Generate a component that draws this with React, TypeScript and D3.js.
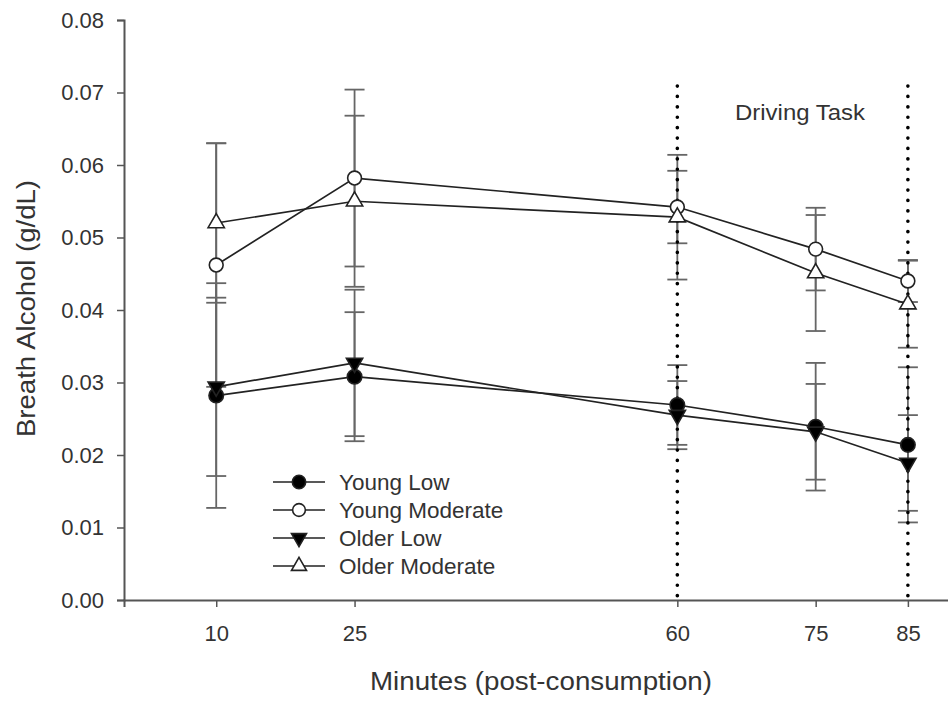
import React from "react";
import * as d3 from "d3";

const minutes = [10, 25, 60, 75, 85];
const xTicks = [10, 25, 60, 75, 85];
const yTicks = [0, 0.01, 0.02, 0.03, 0.04, 0.05, 0.06, 0.07, 0.08];
const drivingMarks = [60, 85];

const youngLow = [0.0282, 0.0308, 0.0269, 0.0239, 0.0214];
const youngLowErr = [0.0155, 0.0089, 0.0055, 0.0088, 0.0107];
const youngModerate = [0.0462, 0.0582, 0.0542, 0.0484, 0.044];
const youngModerateErr = [0.0168, 0.0122, 0.005, 0.0057, 0.0029];
const olderLow = [0.0294, 0.0327, 0.0255, 0.0232, 0.0189];
const olderLowErr = [0.0123, 0.0101, 0.0047, 0.0066, 0.0066];
const olderModerate = [0.052, 0.055, 0.0528, 0.0451, 0.0408];
const olderModerateErr = [0.011, 0.0118, 0.0086, 0.008, 0.006];

const seriesNames = ["Young Low", "Young Moderate", "Older Low", "Older Moderate"];

const W = 948, H = 703;
const margin = { left: 124, top: 20 };
const plotBottom = 600;
const FONT = "'Liberation Sans', Arial, Helvetica, sans-serif";
const TEXT = "#333";

// marker styles per series: filled circle, open circle, filled down-triangle, open up-triangle
const markers = [
  { type: d3.symbolCircle, size: 165, fill: "#000", rotate: 0 },
  { type: d3.symbolCircle, size: 150, fill: "#fff", rotate: 0 },
  { type: d3.symbolTriangle, size: 115, fill: "#000", rotate: 180 },
  { type: d3.symbolTriangle, size: 115, fill: "#fff", rotate: 0 },
];

const App = () => {
  const ref = React.useRef<SVGSVGElement>(null);

  React.useEffect(() => {
    const svg = d3.select(ref.current);
    svg.selectAll("*").remove();

    const x = d3.scaleLinear([0, 90], [margin.left, 954]);
    const y = d3.scaleLinear([0, 0.08], [plotBottom, margin.top]);

    const series = [
      { name: seriesNames[0], vals: youngLow, err: youngLowErr },
      { name: seriesNames[1], vals: youngModerate, err: youngModerateErr },
      { name: seriesNames[2], vals: olderLow, err: olderLowErr },
      { name: seriesNames[3], vals: olderModerate, err: olderModerateErr },
    ];

    // axes
    const yAxis = svg.append("g")
      .attr("transform", `translate(${margin.left},0)`)
      .call(d3.axisLeft(y).tickValues(yTicks).tickFormat(d3.format(".2f")).tickSizeOuter(0).tickSize(7).tickPadding(13));
    const xAxis = svg.append("g")
      .attr("transform", `translate(0,${plotBottom})`)
      .call(d3.axisBottom(x).tickValues(xTicks).tickFormat(d3.format("d")).tickSizeOuter(0).tickSize(7).tickPadding(18));
    [yAxis, xAxis].forEach(g => {
      g.select(".domain").attr("stroke", "#555").attr("stroke-width", 2);
      g.selectAll(".tick line").attr("stroke", "#555").attr("stroke-width", 1.5);
      g.selectAll(".tick text").attr("fill", TEXT).style("font-family", FONT).style("font-size", "22px");
    });

    // error bars
    const capHalf = 10;
    series.forEach(s => {
      const g = svg.append("g").attr("stroke", "#666").attr("stroke-width", 1.8);
      s.vals.forEach((v, i) => {
        const cx = x(minutes[i]);
        const top = y(v + s.err[i]), bot = y(v - s.err[i]);
        g.append("line").attr("x1", cx).attr("x2", cx).attr("y1", top).attr("y2", bot);
        g.append("line").attr("x1", cx - capHalf).attr("x2", cx + capHalf).attr("y1", top).attr("y2", top);
        g.append("line").attr("x1", cx - capHalf).attr("x2", cx + capHalf).attr("y1", bot).attr("y2", bot);
      });
    });

    // driving task dotted lines
    drivingMarks.forEach(m => {
      svg.append("line")
        .attr("x1", x(m)).attr("x2", x(m))
        .attr("y1", 86).attr("y2", plotBottom + 4)
        .attr("stroke", "#000").attr("stroke-width", 3.6)
        .attr("stroke-linecap", "round")
        .attr("stroke-dasharray", "0.1 10.3");
    });

    svg.append("text")
      .attr("x", 735).attr("y", 120)
      .attr("textLength", 130).attr("lengthAdjust", "spacingAndGlyphs")
      .attr("fill", TEXT).style("font-family", FONT).style("font-size", "22px")
      .text("Driving Task");

    // series lines
    const line = d3.line<number>().x((_, i) => x(minutes[i])).y(d => y(d));
    series.forEach(s => {
      svg.append("path").datum(s.vals)
        .attr("fill", "none").attr("stroke", "#222").attr("stroke-width", 1.7)
        .attr("d", line);
    });

    // markers
    series.forEach((s, si) => {
      const mk = markers[si];
      const sym = d3.symbol().type(mk.type).size(mk.size);
      s.vals.forEach((v, i) => {
        svg.append("path")
          .attr("d", sym())
          .attr("transform", `translate(${x(minutes[i])},${y(v)}) rotate(${mk.rotate})`)
          .attr("fill", mk.fill).attr("stroke", "#222").attr("stroke-width", 1.6);
      });
    });

    // legend
    const legend = svg.append("g");
    seriesNames.forEach((name, i) => {
      const ly = 482 + i * 28;
      const mk = markers[i];
      legend.append("line").attr("x1", 273).attr("x2", 325).attr("y1", ly).attr("y2", ly)
        .attr("stroke", "#222").attr("stroke-width", 1.7);
      legend.append("path")
        .attr("d", d3.symbol().type(mk.type).size(mk.size * 0.85)())
        .attr("transform", `translate(299,${ly}) rotate(${mk.rotate})`)
        .attr("fill", mk.fill).attr("stroke", "#222").attr("stroke-width", 1.6);
      legend.append("text").attr("x", 339).attr("y", ly).attr("dy", "0.35em")
        .attr("fill", TEXT).style("font-family", FONT).style("font-size", "22.5px")
        .text(name);
    });

    // axis titles
    svg.append("text")
      .attr("x", 370).attr("y", 690)
      .attr("textLength", 342).attr("lengthAdjust", "spacingAndGlyphs")
      .attr("fill", TEXT).style("font-family", FONT).style("font-size", "25px")
      .text("Minutes (post-consumption)");
    svg.append("text")
      .attr("transform", `translate(35,437) rotate(-90)`)
      .attr("textLength", 257).attr("lengthAdjust", "spacingAndGlyphs")
      .attr("fill", TEXT).style("font-family", FONT).style("font-size", "26px")
      .text("Breath Alcohol (g/dL)");
  }, []);

  return (
    <svg ref={ref} width={W} height={H}
      style={{ position: "absolute", left: 0, top: 0, display: "block", background: "#fff" }} />
  );
};

export default App;
